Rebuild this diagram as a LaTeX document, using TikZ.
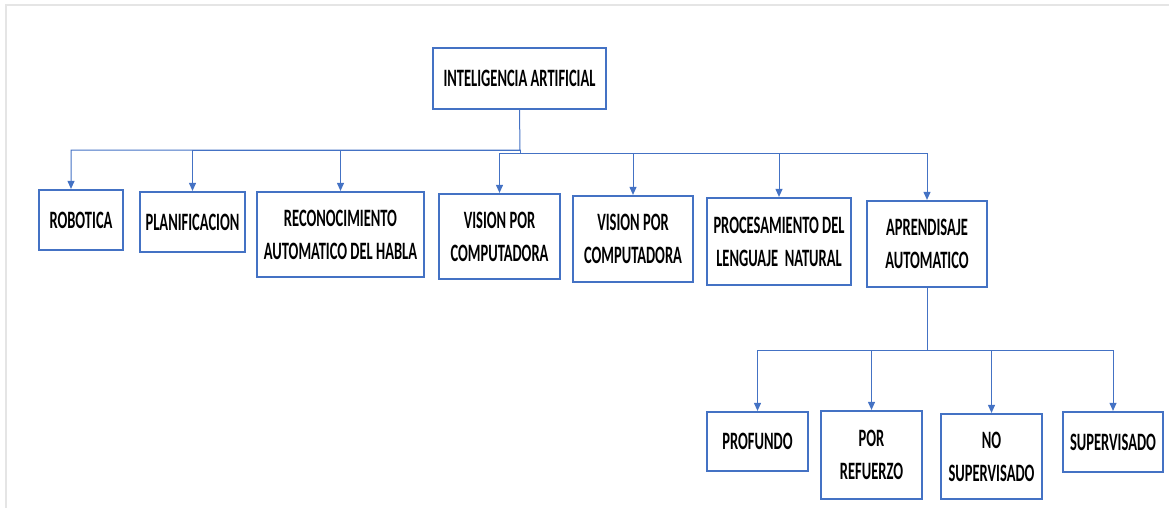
\documentclass[tikz,border=0pt]{standalone}
\usepackage{fontspec}
\setmainfont{Carlito}[FakeStretch=0.58]
\usetikzlibrary{arrows.meta}
\definecolor{azul}{RGB}{68,114,196}
\begin{document}
\begin{tikzpicture}[x=1pt,y=-1pt,
  box/.style={draw=azul, line width=2.2pt, inner sep=0pt, align=center,
    font=\fontsize{25}{33}\selectfont\bfseries},
  arr/.style={draw=azul, line width=1pt, -{Triangle[length=8pt,width=7pt]}}]
\useasboundingbox (0,0) rectangle (1169,508);
\draw[gray!20, line width=1.5pt] (6,508) -- (6,5) -- (1169,5);
% nivel superior
\node[box, minimum width=173, minimum height=61] (ia) at (519.5,78.5){INTELIGENCIA ARTIFICIAL};
% ramas
\node[box, minimum width=84, minimum height=60] (rob) at (81,220){ROBOTICA};
\node[box, minimum width=105, minimum height=60] (plan) at (192.5,222){PLANIFICACION};
\node[box, minimum width=167, minimum height=85] (rec) at (340.5,234.5){RECONOCIMIENTO\\AUTOMATICO DEL HABLA};
\node[box, minimum width=121, minimum height=85] (vis1) at (499.5,236.5){VISION POR\\COMPUTADORA};
\node[box, minimum width=120, minimum height=86] (vis2) at (633,239){VISION POR\\COMPUTADORA};
\node[box, minimum width=144, minimum height=87] (pln) at (779,241.5){PROCESAMIENTO DEL\\LENGUAJE \ NATURAL};
\node[box, minimum width=120, minimum height=86] (apr) at (927,244){APRENDISAJE\\AUTOMATICO};
% tipos de aprendizaje
\node[box, minimum width=101, minimum height=59] (prof) at (757.5,441.5){PROFUNDO};
\node[box, minimum width=101, minimum height=88] (ref) at (871.5,455){POR\\REFUERZO};
\node[box, minimum width=101, minimum height=85] (nosup) at (991.5,456.5){NO\\SUPERVISADO};
\node[box, minimum width=100, minimum height=60] (sup) at (1113,442){SUPERVISADO};
\coordinate (busa) at (520,150);
\coordinate (busb) at (520,153);
\coordinate (busc) at (927,350);
\draw[arr] (ia.south) -- (busa) -| ([xshift=-10pt]rob.north);
\draw[arr] (busa) -| (plan.north);
\draw[arr] (busa) -| (rec.north);
\draw[arr] (busb) -| (vis1.north);
\draw[arr] (busa) -- (busb) -| (vis2.north);
\draw[arr] (busb) -| (pln.north);
\draw[arr] (busb) -| (apr.north);
\draw[arr] (apr.south) -- (busc) -| (prof.north);
\draw[arr] (busc) -| (ref.north);
\draw[arr] (busc) -| (nosup.north);
\draw[arr] (busc) -| (sup.north);
\end{tikzpicture}
\end{document}
